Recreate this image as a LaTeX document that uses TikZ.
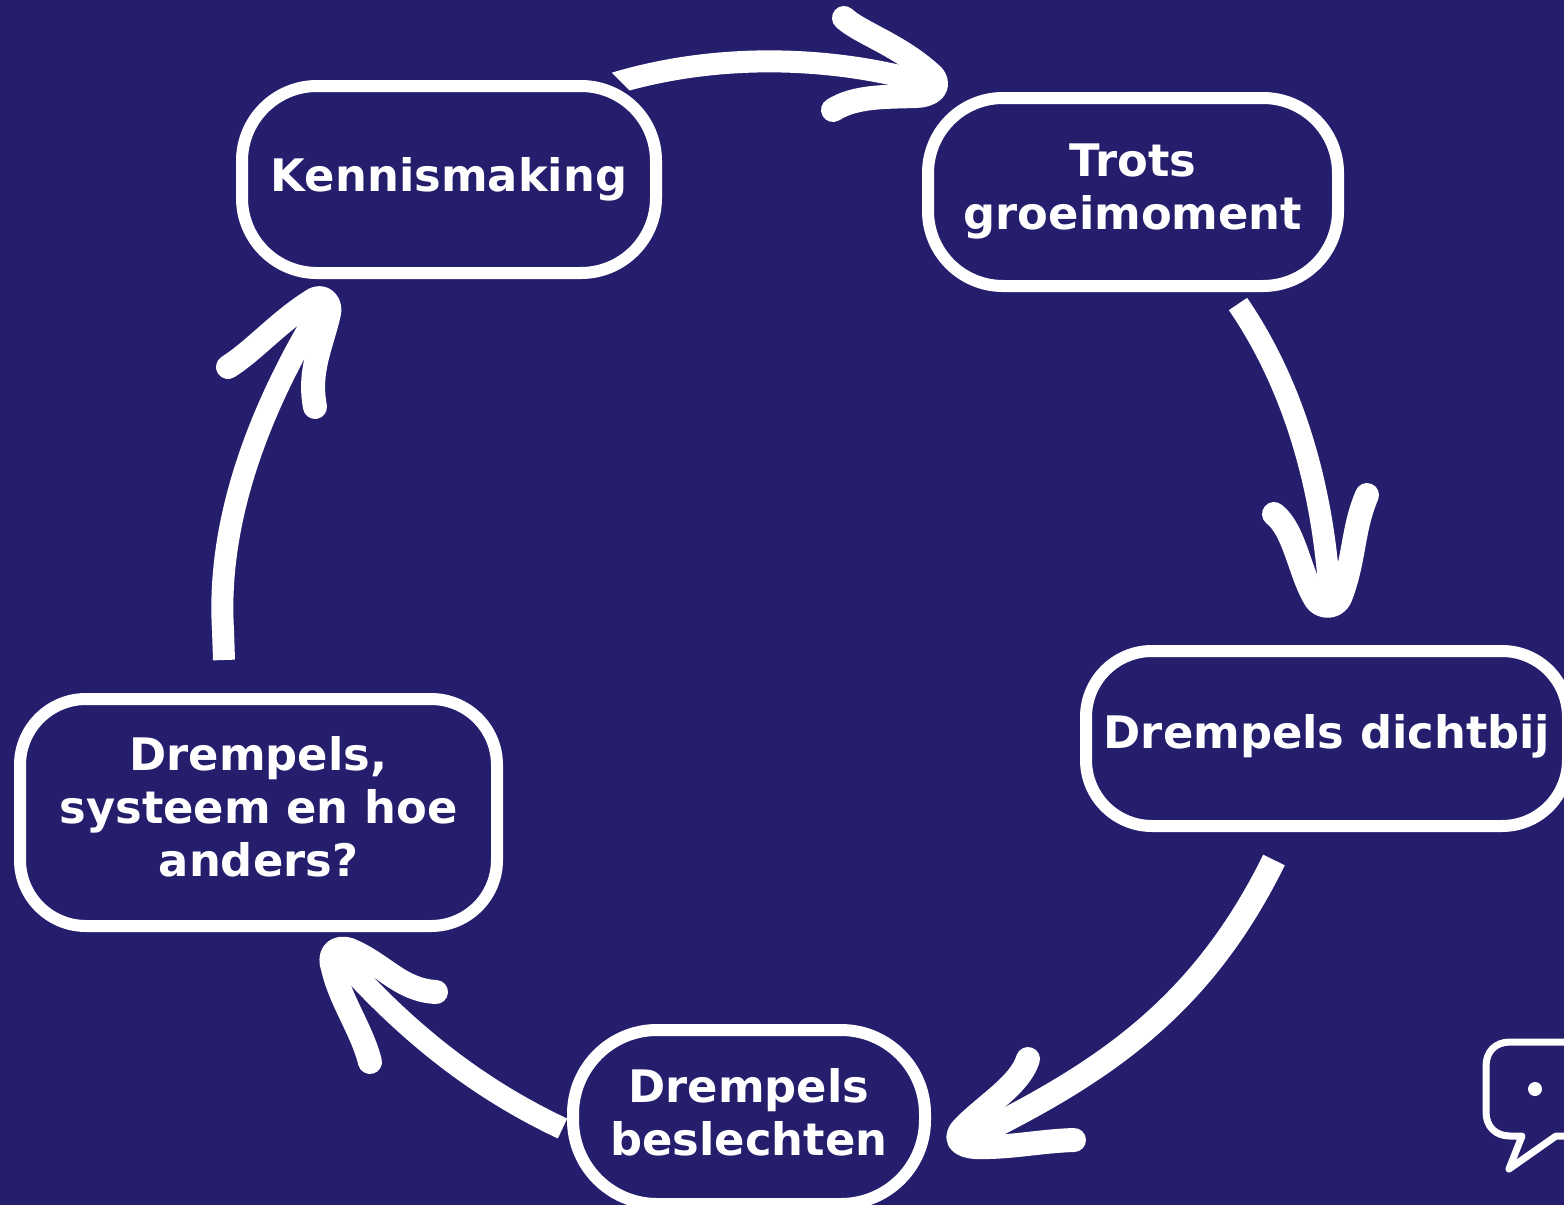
\documentclass[tikz,border=0pt]{standalone}
\usepackage{fontspec}
\setmainfont{DejaVu Sans}
\definecolor{bgnavy}{HTML}{251E6D}
\newcommand\lifted[2]{\raisebox{#1}[\height][\depth]{\begin{tabular}{@{}c@{}}#2\end{tabular}}}
\tikzset{
  stage/.style={draw=white,fill=bgnavy,line width=6pt,rounded corners=37.5pt,align=center,text=white,
    font=\fontsize{22.4}{26.5}\selectfont\bfseries,inner sep=0pt,outer sep=0pt},
  shaft/.style={draw=white,line width=11pt,line cap=butt},
  head/.style={draw=white,line width=12pt,line cap=round,line join=round},
  bubble/.style={draw=white,line width=3.5pt,line join=round,line cap=round}
}
\begin{document}
\begin{tikzpicture}[x=0.5pt,y=-0.5pt]
\useasboundingbox (0,0) rectangle (1564,1205);
\clip (0,0) rectangle (1564,1205);
\fill[bgnavy] (0,0) rectangle (1564,1205);

\node[stage,minimum width=207pt,minimum height=93.5pt] (k) at (449,179.5) {\lifted{-0.5pt}{Kennismaking}};
\node[stage,minimum width=205pt,minimum height=94pt] (t) at (1133,192) {\lifted{0pt}{Trots\\groeimoment}};
\node[stage,rounded corners=33pt,minimum width=241pt,minimum height=87.5pt] (d) at (1327,738.5) {\lifted{0.5pt}{Drempels dichtbij}};
\node[stage,rounded corners=33pt,minimum width=238.5pt,minimum height=113.5pt] (s) at (258.5,812.5) {\lifted{0pt}{Drempels,\\systeem en hoe\\anders?}};
\node[stage,rounded corners=42pt,minimum width=176pt,minimum height=87pt] (b) at (749,1117) {\lifted{-0.6pt}{Drempels\\beslechten}};

% free ends of the connectors
\coordinate (ks) at (606,86);
\coordinate (te) at (930,84);
\coordinate (ts) at (1238,304);
\coordinate (de) at (1330,600);
\coordinate (ds) at (1274,860);
\coordinate (be) at (962,1142);
\coordinate (bs) at (562.5,1128.5);
\coordinate (se) at (338,955);
\coordinate (ss) at (224,660);
\coordinate (ke) at (322,306);

\begin{scope}
  \clip (612,73) -- (630,91) -- (640,110) -- (960,110) -- (960,30) -- (612,30) -- cycle;
  \draw[shaft] (ks) .. controls (715,51) and (835,56) .. (te);
\end{scope}
\draw[shaft] (ts) .. controls (1290,380) and (1323,480) .. (de);
\draw[shaft,line width=12pt] (ds) .. controls (1200,1010) and (1100,1075) .. (be);
\draw[shaft] (bs) .. controls (470,1085) and (400,1025) .. (se);
\draw[shaft] (ss) -- ++(-1,-30) .. controls (217,530) and (252,420) .. (ke);

% hand-drawn arrow heads
\draw[head] (844,18) .. controls (860,33) and (900,45) .. (933,76)
  .. controls (942,88) and (930,96) .. (915,96) .. controls (885,97) and (855,96) .. (833,110);
\draw[head] (1274,514) .. controls (1295,530) and (1300,575) .. (1316,600)
  .. controls (1322,608) and (1335,608) .. (1340,598) .. controls (1355,560) and (1352,530) .. (1367,495);
\draw[head] (1028,1059) .. controls (1020,1085) and (985,1105) .. (963,1128)
  .. controls (952,1140) and (962,1146) .. (975,1147) .. controls (1010,1148) and (1040,1141) .. (1074,1140);
\draw[head] (436,992) .. controls (400,990) and (385,965) .. (350,950)
  .. controls (335,945) and (328,955) .. (333,968) .. controls (340,1000) and (362,1030) .. (370,1062);
\draw[head] (228,367) .. controls (255,350) and (280,320) .. (315,299)
  .. controls (325,295) and (331,305) .. (329,313) .. controls (322,345) and (308,370) .. (315,407);

% speech bubble
\draw[bubble] (1600,1042) -- (1510,1042) .. controls (1495,1042) and (1486,1052) .. (1486,1066)
  -- (1486,1112) .. controls (1486,1126) and (1495,1136) .. (1510,1136) -- (1522,1136)
  -- (1509,1169) -- (1556,1136) -- (1600,1136);
\fill[white] (1535,1089) circle[radius=3.5pt];
\end{tikzpicture}
\end{document}
